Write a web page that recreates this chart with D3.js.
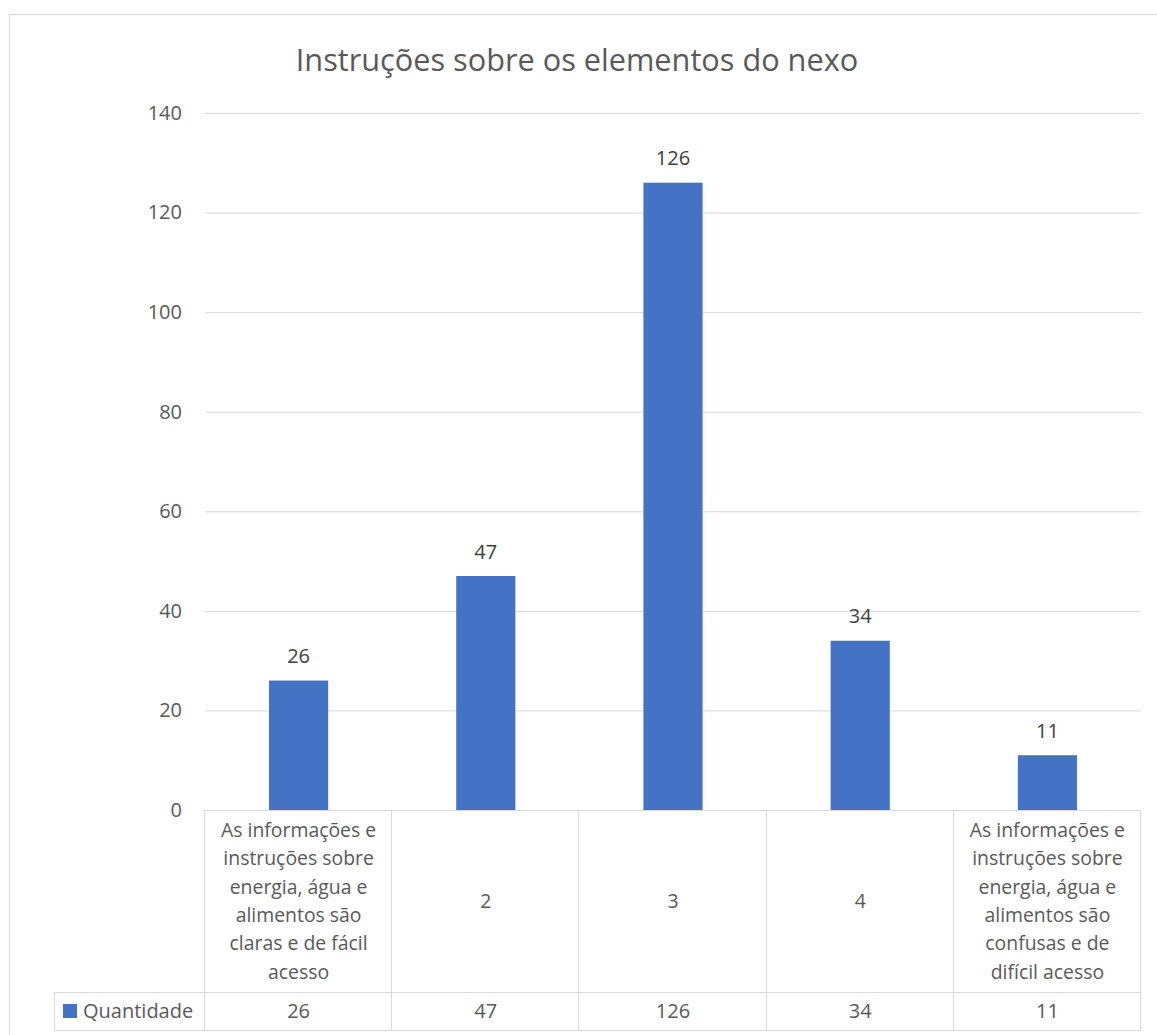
<!DOCTYPE html>
<html>
<head>
<meta charset="utf-8">
<script src="https://cdn.jsdelivr.net/npm/d3@7"></script>
<style>
  body { margin: 0; background: #fff; }
  svg { display: block; }
  text { font-family: "Open Sans", "Noto Sans", sans-serif; }
</style>
</head>
<body>
<svg id="chart" width="1157" height="1035"></svg>
<script>
// Survey answers: clarity of instructions on the energy–water–food nexus
const chartTitle = "Instruções sobre os elementos do nexo";
const seriesName = "Quantidade";
const categories = [
  "As informações e\ninstruções sobre\nenergia, água e\nalimentos são\nclaras e de fácil\nacesso",
  "2",
  "3",
  "4",
  "As informações e\ninstruções sobre\nenergia, água e\nalimentos são\nconfusas e de\ndifícil acesso"
];
const values = [26, 47, 126, 34, 11];
const yTicks = [0, 20, 40, 60, 80, 100, 120, 140];

const W = 1157, H = 1035;
const plot = { left: 205, right: 1141, top: 113, bottom: 810 };
const table = { headerBottom: 992, bottom: 1030, legendLeft: 54 };
const gridColor = "#d9d9d9";
const barColor = "#4472C4";
const textColor = "#595959";

const svg = d3.select("#chart");

// chart frame
svg.append("rect")
  .attr("x", 9.5).attr("y", 14.5)
  .attr("width", W).attr("height", H)
  .attr("fill", "none").attr("stroke", gridColor);

// title
svg.append("text")
  .attr("x", 577).attr("y", 71)
  .attr("text-anchor", "middle")
  .attr("font-size", 30.7)
  .attr("fill", textColor)
  .text(chartTitle);

const x = d3.scaleBand()
  .domain(d3.range(categories.length))
  .range([plot.left, plot.right]);

const y = d3.scaleLinear()
  .domain([0, d3.max(yTicks)])
  .range([plot.bottom, plot.top]);

// value axis with gridlines
const yAxis = d3.axisLeft(y)
  .tickValues(yTicks)
  .tickSize(-(plot.right - plot.left))
  .tickPadding(23);

const gy = svg.append("g")
  .attr("transform", `translate(${plot.left},0)`)
  .call(yAxis);
gy.select(".domain").remove();
gy.selectAll(".tick line").attr("stroke", gridColor);
gy.selectAll(".tick text")
  .attr("font-size", 20)
  .attr("fill", textColor)
  .attr("font-family", "'Open Sans', 'Noto Sans', sans-serif");

// bars
const barW = x.bandwidth() * 0.316;
svg.append("g").selectAll("rect")
  .data(values)
  .join("rect")
  .attr("x", (d, i) => x(i) + (x.bandwidth() - barW) / 2)
  .attr("y", d => y(d))
  .attr("width", barW)
  .attr("height", d => y(0) - y(d))
  .attr("fill", barColor);

// data labels
svg.append("g").selectAll("text")
  .data(values)
  .join("text")
  .attr("x", (d, i) => x(i) + x.bandwidth() / 2)
  .attr("y", d => y(d) - 17.5)
  .attr("text-anchor", "middle")
  .attr("font-size", 20)
  .attr("fill", "#404040")
  .text(d => d);

// data table grid
const tg = svg.append("g").attr("stroke", gridColor).attr("fill", "none");
tg.append("line")
  .attr("x1", plot.left).attr("x2", plot.right)
  .attr("y1", plot.bottom + 0.5).attr("y2", plot.bottom + 0.5);
tg.append("line")
  .attr("x1", table.legendLeft).attr("x2", plot.right)
  .attr("y1", table.headerBottom + 0.5).attr("y2", table.headerBottom + 0.5);
tg.append("line")
  .attr("x1", table.legendLeft).attr("x2", plot.right)
  .attr("y1", table.bottom + 0.5).attr("y2", table.bottom + 0.5);
const edges = d3.range(categories.length).map(i => x(i)).concat([plot.right]);
tg.selectAll("line.v")
  .data(edges)
  .join("line")
  .attr("class", "v")
  .attr("x1", d => Math.round(d) - 0.5).attr("x2", d => Math.round(d) - 0.5)
  .attr("y1", plot.bottom).attr("y2", table.bottom + 1);
tg.append("line")
  .attr("x1", table.legendLeft + 0.5).attr("x2", table.legendLeft + 0.5)
  .attr("y1", table.headerBottom).attr("y2", table.bottom + 1);

// category labels in the header row
const lineStep = 28.4;
const headerMid = (plot.bottom + table.headerBottom) / 2;
const catG = svg.append("g")
  .attr("font-size", 19.4)
  .attr("fill", textColor)
  .attr("text-anchor", "middle");
categories.forEach((c, i) => {
  const lines = c.split("\n");
  const t = catG.append("text");
  lines.forEach((ln, j) => {
    t.append("tspan")
      .attr("x", x(i) + x.bandwidth() / 2)
      .attr("y", headerMid + (j - (lines.length - 1) / 2) * lineStep)
      .attr("dy", "0.35em")
      .text(ln);
  });
});

// value row
const rowMid = (table.headerBottom + table.bottom) / 2;
svg.append("g").selectAll("text")
  .data(values)
  .join("text")
  .attr("x", (d, i) => x(i) + x.bandwidth() / 2)
  .attr("y", rowMid)
  .attr("dy", "0.35em")
  .attr("text-anchor", "middle")
  .attr("font-size", 20)
  .attr("fill", textColor)
  .text(d => d);

// legend key in the value row
svg.append("rect")
  .attr("x", 63).attr("y", 1004)
  .attr("width", 14).attr("height", 14)
  .attr("fill", barColor);
svg.append("text")
  .attr("x", 83).attr("y", rowMid)
  .attr("dy", "0.35em")
  .attr("font-size", 20)
  .attr("fill", textColor)
  .text(seriesName);
</script>
</body>
</html>
